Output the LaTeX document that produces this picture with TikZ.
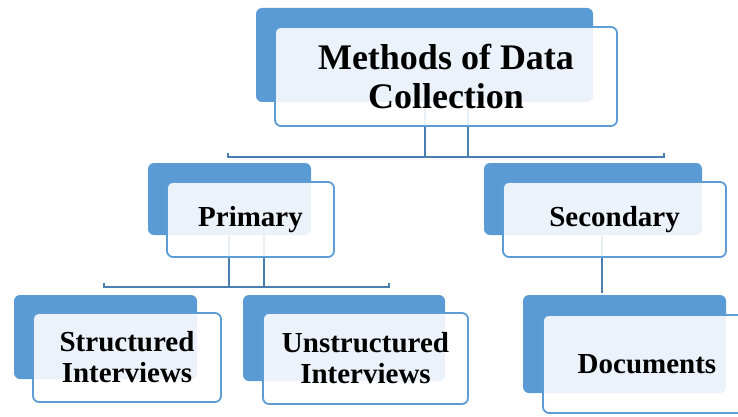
\documentclass[tikz,border=0pt]{standalone}
\usepackage{fontspec}
\setmainfont{Liberation Serif}
\begin{document}
\begin{tikzpicture}[x=1pt,y=-1pt,
  backbox/.style={fill=boxblue,draw=none,rounded corners=6pt,inner sep=0pt},
  frontbox/.style={fill=white,fill opacity=0.88,text opacity=1,draw=edgeblue,
    line width=1.8pt,rounded corners=6pt,inner sep=0pt,align=center,
    font=\bfseries\fontsize{29}{31}\selectfont},
  link/.style={draw=linkblue,line width=2pt}]
\definecolor{boxblue}{HTML}{5B9BD5}
\definecolor{edgeblue}{HTML}{5E9CD6}
\definecolor{linkblue}{HTML}{4A7DB0}
\useasboundingbox (0,0) rectangle (738,417);

% back (solid blue) panels
\node[backbox,minimum width=337pt,minimum height=94pt] (mback) at (424.5,55) {};
\node[backbox,minimum width=163pt,minimum height=72pt] (pback) at (229.5,199) {};
\node[backbox,minimum width=218pt,minimum height=72pt] (sback) at (593,199) {};
\node[backbox,minimum width=183pt,minimum height=84pt] (stback) at (105.5,337) {};
\node[backbox,minimum width=202pt,minimum height=86pt] (unback) at (344,338) {};
\node[backbox,minimum width=203pt,minimum height=98pt] (dback) at (624.5,344) {};

% bus levels and drop positions
\coordinate (busone) at (0,157);
\coordinate (bustwo) at (0,287);
\coordinate (busL) at (228,157);
\coordinate (busR) at (664,157);
\coordinate (busPL) at (104,287);
\coordinate (busPR) at (389,287);
\coordinate (mone) at (425,0);
\coordinate (mtwo) at (468,0);
\coordinate (pone) at (229,0);
\coordinate (ptwo) at (264,0);
\coordinate (sone) at (602,0);
\coordinate (dtop) at (0,293);

% connectors
\draw[link] (mone |- mback.south) -- (mone |- busone);
\draw[link] (mtwo |- mback.south) -- (mtwo |- busone);
\draw[link] ([yshift=4pt]busL) -- (busL) -- (busR) -- ([yshift=4pt]busR);
\draw[link] (pone |- pback.south) -- (pone |- bustwo);
\draw[link] (ptwo |- pback.south) -- (ptwo |- bustwo);
\draw[link] ([yshift=4pt]busPL) -- (busPL) -- (busPR) -- ([yshift=4pt]busPR);
\draw[link] (sone |- sback.south) -- (sone |- dtop);

% front (white) panels with labels
\node[frontbox,minimum width=342pt,minimum height=99pt,
  font=\bfseries\fontsize{36}{39}\selectfont] (methods) at (446,76.5)
  {Methods of Data\\Collection};
\node[frontbox,minimum width=167pt,minimum height=75pt] (primary) at (250.5,219.5) {Primary};
\node[frontbox,minimum width=223pt,minimum height=75pt] (secondary) at (614.5,219.5) {Secondary};
\node[frontbox,minimum width=188pt,minimum height=89pt] (structured) at (127,357.5) {Structured\\Interviews};
\node[frontbox,minimum width=205pt,minimum height=91pt] (unstructured) at (365.5,358.5) {Unstructured\\Interviews};
\node[frontbox,minimum width=208pt,minimum height=98pt] (documents) at (647,364) {Documents};
\end{tikzpicture}
\end{document}
